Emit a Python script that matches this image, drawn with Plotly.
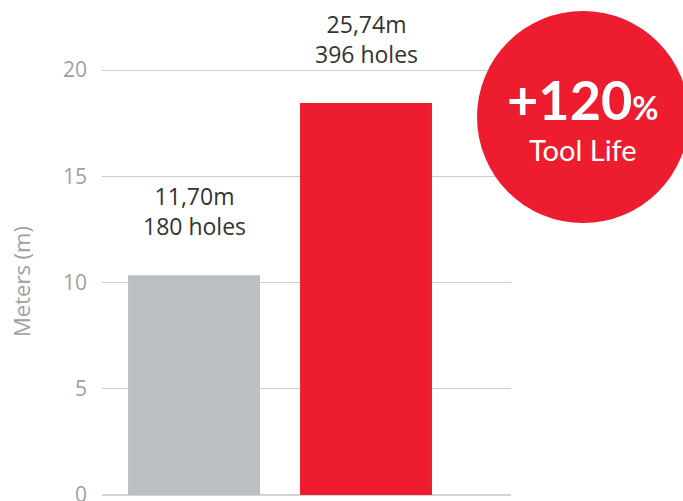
import plotly.graph_objects as go

categories = ["Competitor", "New tool"]
meters = [10.35, 18.45]
bar_colors = ["#bbbfc3", "#ed1c2e"]
labels = ["11,70m<br>180 holes", "25,74m<br>396 holes"]
y_ticks = [0, 5, 10, 15, 20]
badge_main = "+120"
badge_sub = "Tool Life"

TOP = 68
PLOT_H = 501 - 6 - TOP

def py(pix):
    return (495 - pix) / PLOT_H

fig = go.Figure()
fig.add_trace(go.Bar(
    x=categories, y=meters, marker=dict(color=bar_colors, line=dict(width=0)),
    width=0.767, hoverinfo="skip"))

for c, v, t in zip(categories, meters, labels):
    fig.add_annotation(x=c, y=v, text=t, showarrow=False, yanchor="bottom",
                       yshift=31, font=dict(family="Open Sans", size=23, color="#333333"),
                       align="center")

# badge circle
fig.add_shape(type="circle", xref="paper", yref="paper",
              x0=(477 - 102) / 409, x1=(689 - 102) / 409, y0=py(223), y1=py(11),
              fillcolor="#ed1c2e", line=dict(width=0), layer="above")
fig.add_annotation(xref="paper", yref="paper", x=(583 - 102) / 409, y=py(100),
                   text=f"<b>{badge_main}</b><span style='font-size:32px'><b>%</b></span>",
                   showarrow=False, xanchor="center", yanchor="middle",
                   font=dict(family="Lato", size=54, color="white"))
fig.add_annotation(xref="paper", yref="paper", x=(583 - 102) / 409, y=py(149),
                   text=badge_sub, showarrow=False, xanchor="center", yanchor="middle",
                   font=dict(family="Lato", size=29, color="white"))

fig.update_layout(
    width=683, height=501,
    margin=dict(l=102, r=172, t=TOP, b=6, autoexpand=False),
    paper_bgcolor="white", plot_bgcolor="white",
    showlegend=False,
    xaxis=dict(type="category", range=[-0.535, 1.843], showticklabels=False,
               showgrid=False, zeroline=False, showline=False, fixedrange=True,
               automargin=False),
    yaxis=dict(range=[0, 20.1], tickvals=y_ticks, showgrid=True, gridcolor="#cccccc",
               gridwidth=1, zeroline=True, zerolinecolor="#d4d4d4", zerolinewidth=2,
               showline=False, ticklabelstandoff=14, ticklabeloverflow="allow",
               automargin=False,
               tickfont=dict(family="Open Sans", size=21, color="#a0a0a0"),
               title=dict(text="Meters (m)", standoff=26,
                          font=dict(family="Open Sans", size=22, color="#a0a0a0"))),
)

fig.write_html("out.html", config={"displayModeBar": False},
               post_script="document.body.style.margin='0';document.body.style.padding='0';")
